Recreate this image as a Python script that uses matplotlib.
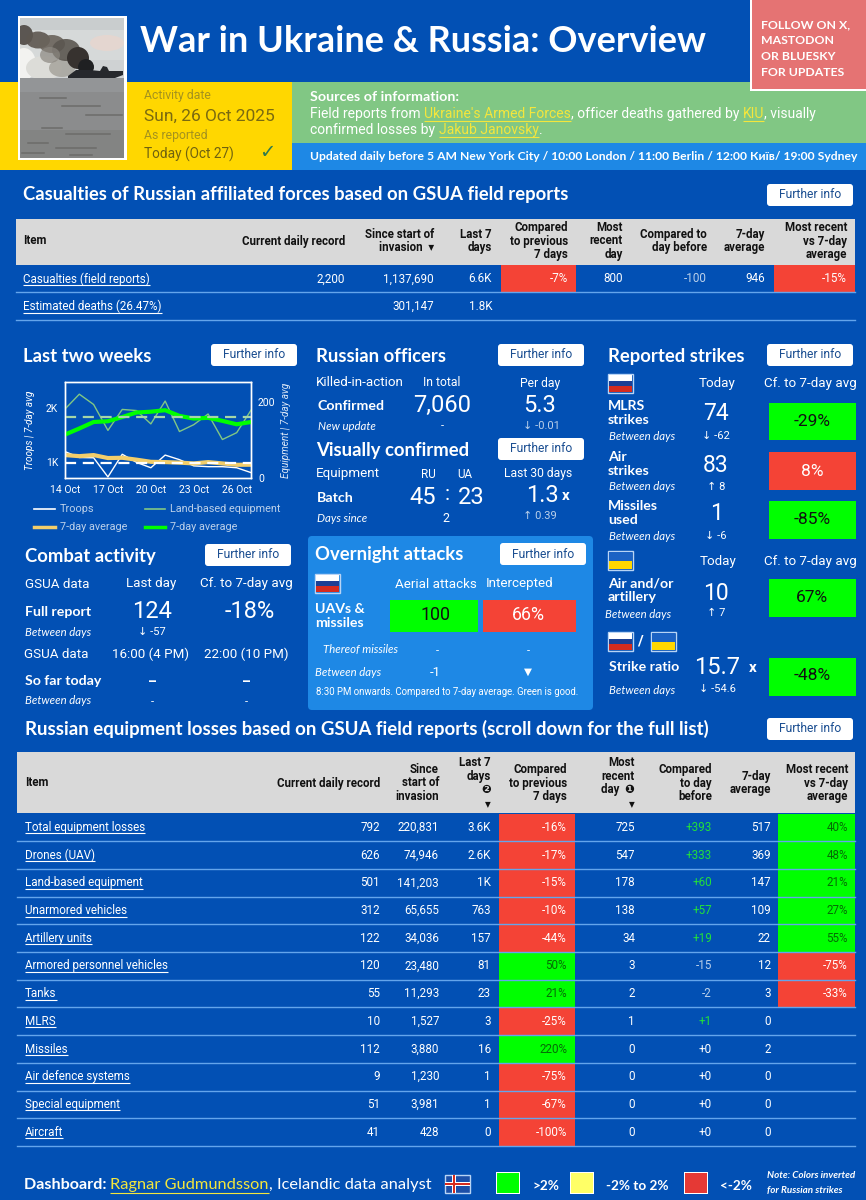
#!/usr/bin/python
#coding:utf-8
import matplotlib
matplotlib.use('agg')
import matplotlib.pyplot as plt
from matplotlib.patches import Rectangle, FancyBboxPatch, Ellipse, Polygon

BLUE = '#0250B4'
LIGHTBLUE = '#1E88E5'
GREEN = '#00FF00'
RED = '#F44336'
YELLOW = '#FFD700'
HEAD = '#D9D9D9'
LINE = '#64A5EC'
MUTED = '#BBD0EA'
DARKGREEN = '#066B06'

# line chart
days = list(range(14))
day_labels = ['14 Oct', '17 Oct', '20 Oct', '23 Oct', '26 Oct']
troops = [1190, 1080, 1075, 720, 1140, 990, 890, 1125, 1040, 925, 910, 910, 890, 800]
troops_avg = [1125, 1105, 1125, 1070, 1075, 1040, 1000, 995, 985, 970, 995, 970, 945, 946]
equipment = [181, 220, 193, 125, 180, 177, 142, 202, 122, 140, 168, 101, 119, 178]
equipment_avg = [114, 130, 147, 149, 160, 172, 174, 178, 163, 156, 158, 150, 141, 147]
troops_mean = 975
equipment_mean = 160

# casualties table
cas_items = ['Casualties (field reports)', 'Estimated deaths (26.47%)']
cas_record = ['2,200', '']
cas_since = ['1,137,690', '301,147']
cas_last7 = ['6.6K', '1.8K']
cas_cmp7 = [-7, None]
cas_recent = ['800', '']
cas_cmpday = ['-100', '']
cas_avg7 = ['946', '']
cas_vsavg = [-15, None]

# equipment table
eq_items = ['Total equipment losses', 'Drones (UAV)', 'Land-based equipment', 'Unarmored vehicles',
            'Artillery units', 'Armored personnel vehicles', 'Tanks', 'MLRS', 'Missiles',
            'Air defence systems', 'Special equipment', 'Aircraft']
eq_record = [792, 626, 501, 312, 122, 120, 55, 10, 112, 9, 51, 41]
eq_since = ['220,831', '74,946', '141,203', '65,655', '34,036', '23,480', '11,293', '1,527', '3,880',
            '1,230', '3,981', '428']
eq_last7 = ['3.6K', '2.6K', '1K', '763', '157', '81', '23', '3', '16', '1', '1', '0']
eq_cmp7 = [-16, -17, -15, -10, -44, 50, 21, -25, 220, -75, -67, -100]
eq_recent = [725, 547, 178, 138, 34, 3, 2, 1, 0, 0, 0, 0]
eq_cmpday = [393, 333, 60, 57, 19, -15, -2, 1, 0, 0, 0, 0]
eq_avg7 = [517, 369, 147, 109, 22, 12, 3, 0, 2, 0, 0, 0]
eq_vsavg = [40, 48, 21, 27, 55, -75, -33, None, None, None, None, None]

# strikes panel
strike_names = ['MLRS\nstrikes', 'Air\nstrikes', 'Missiles\nused']
strike_today = [74, 83, 1]
strike_diff = ['↓ -62', '↑ 8', '↓ -6']
strike_pct = [-29, 8, -85]

HEAD_FONT = ['Lato', 'DejaVu Sans']
BODY_FONT = ['Roboto', 'DejaVu Sans']
VAL = 8.4
LABEL = 9.6
BOLD = 10.2
SUB = 8.2

fig = plt.figure(figsize=(8.66, 12), dpi=100, facecolor=BLUE)
ax = fig.add_axes([0, 0, 1, 1])
ax.set_xlim(0, 866)
ax.set_ylim(1200, 0)
ax.axis('off')


def T(x, y, s, size=9, ha='left', color='white', weight='normal', style='normal', font=BODY_FONT, va='center', **kw):
    return ax.text(x, y, s, fontsize=size, ha=ha, va=va, color=color, fontweight=weight, fontstyle=style,
                   family=font, **kw)


def H(x, y, s, size=13.3):
    return T(x, y + 1.5, s, size=size, weight='bold', font=HEAD_FONT)


def box(x0, y0, x1, y1, color, **kw):
    ax.add_patch(Rectangle((x0, y0), x1 - x0, y1 - y0, facecolor=color, edgecolor='none', **kw))


def button(x0, y0, x1, y1):
    ax.add_patch(FancyBboxPatch((x0 + 3, y0 + 3), x1 - x0 - 6, y1 - y0 - 6, boxstyle='round,pad=3',
                                facecolor='white', edgecolor='none'))
    T((x0 + x1) / 2, (y0 + y1) / 2, 'Further info', size=8.7, ha='center', color='#1B4E91')


def run(x, y, parts, size, font=BODY_FONT, weight='normal'):
    # text in several colours on one line, links get a line under them
    r = fig.canvas.get_renderer()
    inv = ax.transData.inverted()
    for s, color, link in parts:
        t = T(x, y, s, size=size, color=color, font=font, weight=weight)
        bb = t.get_window_extent(r)
        x1 = inv.transform((bb.x1, bb.y0))[0]
        if link:
            ax.plot([x, x1], [y + size * 0.72, y + size * 0.72], color=color, lw=0.8, solid_capstyle='butt')
        x = x1
    return x


def flag(x, y, top, mid, bottom, w=23, h=17):
    ax.add_patch(Rectangle((x - 1, y - 1), w + 2, h + 2, facecolor='none', edgecolor='#B8D4F5', lw=1))
    box(x, y, x + w, y + h / 3, top)
    box(x, y + h / 3, x + w, y + 2 * h / 3, mid)
    box(x, y + 2 * h / 3, x + w, y + h, bottom)


def ru_flag(x, y):
    flag(x, y, 'white', '#1C3F94', '#D52B1E')


def ua_flag(x, y):
    w, h = 23, 17
    flag(x, y, '#1B62C4', '#1B62C4', YELLOW)
    box(x, y + h / 2, x + w, y + h, YELLOW)


def pct(v):
    return '%d%%' % v


def signed(v):
    return '%+d' % v


# header bands
box(0, 82, 292, 170, YELLOW)
box(292, 82, 866, 143, '#81C784')
box(292, 143, 866, 170, LIGHTBLUE)
box(750, 0, 866, 91, 'white')
box(752, 0, 866, 89, '#E57373')

# photo
box(18, 16, 127, 160, 'white')
clip = Rectangle((20, 18), 104, 140, transform=ax.transData)
box(20, 18, 124, 78, '#D6D9D9')
box(20, 18, 124, 30, '#C9CDCE')
box(20, 60, 124, 78, '#CFD2D3')
smoke = [(107, 43, 34, 16, '#E6D6CF', 0.9),
         (24, 64, 24, 32, '#F2F2F0', 1), (44, 68, 36, 24, '#DCDCD8', 1), (62, 68, 26, 18, '#A9A7A0', 0.9),
         (24, 35, 18, 20, '#4E4843', 0.9), (38, 40, 24, 17, '#5D5650', 0.9), (52, 44, 26, 18, '#6A635B', 0.9),
         (66, 50, 28, 22, '#5B5650', 0.9), (50, 55, 20, 16, '#8B8780', 0.7), (78, 58, 22, 22, '#37322F', 1),
         (86, 67, 16, 16, '#1F2022', 1)]
for cx, cy, w, h, c, a in smoke:
    e = Ellipse((cx, cy), w, h, facecolor=c, edgecolor='none', alpha=a)
    ax.add_patch(e)
    e.set_clip_path(clip)
ax.add_patch(Polygon([[68, 76], [76, 70], [90, 70], [100, 71], [103, 66], [107, 67], [109, 71], [123, 71], [123, 75],
                      [115, 78], [68, 78]], facecolor='#26282C', edgecolor='none'))
box(20, 78, 124, 158, '#8B8C8D')
box(20, 78, 124, 92, '#939597')
box(20, 130, 124, 158, '#838483')
for yy, x0, x1 in [(98, 40, 66), (106, 62, 100), (115, 86, 122), (128, 42, 62), (134, 66, 110), (143, 28, 48),
                   (148, 56, 96), (153, 22, 44), (155, 70, 92)]:
    ax.plot([x0, x1], [yy, yy], color='#6C6C6A', lw=1.1)

T(140, 41, 'War in Ukraine & Russia: Overview', size=26, weight='bold', font=HEAD_FONT)
for i, s in enumerate(['FOLLOW ON X,', 'MASTODON', 'OR BLUESKY', 'FOR UPDATES']):
    T(761, 25 + i * 16, s, size=8.8, weight='bold', font=HEAD_FONT)

T(144, 96, 'Activity date', size=8.8, color='#A4921E')
T(144, 116, 'Sun, 26 Oct 2025', size=12.5, color='#7A6A10')
T(144, 136, 'As reported', size=8.8, color='#A4921E')
T(144, 154, 'Today (Oct 27)', size=9.8, color='#6F6210')
T(267, 153, '✓', size=14, ha='center', color='#2F7A4F', font=['DejaVu Sans'])

T(310, 97, 'Sources of information:', size=10.3, weight='bold', font=HEAD_FONT)
LINK = '#F4E63C'
run(310, 114, [('Field reports from ', 'white', False), ("Ukraine's Armed Forces", LINK, True),
               (', officer deaths gathered by ', 'white', False), ('KIU', LINK, True),
               (', visually', 'white', False)], 10)
run(310, 130, [('confirmed losses by ', 'white', False), ('Jakub Janovsky', LINK, True), ('.', 'white', False)], 10)
T(310, 156, 'Updated daily before 5 AM New York City / 10:00 London / 11:00 Berlin / 12:00 Київ/ 19:00 Sydney',
  size=8.7, weight='bold', font=HEAD_FONT)

# casualties table
H(23, 193, 'Casualties of Russian affiliated forces based on GSUA field reports')
button(767, 184, 853, 206)
box(16, 219, 855, 265, HEAD)
cas_right = [345, 434, 492, 568, 623, 707, 765, 847]
cas_heads = ['Current daily record', 'Since start of\ninvasion  ▾', 'Last 7\ndays', 'Compared\nto previous\n7 days',
             'Most\nrecent\nday', 'Compared to\nday before', '7-day\naverage', 'Most recent\nvs 7-day\naverage']
T(23, 241, 'Item', size=8.3, color='#111111', weight='bold')
for xr, s in zip(cas_right, cas_heads):
    T(xr, 241, s, size=8.3, ha='right', color='#111111', weight='bold', linespacing=1.05)
cas_tops = [265, 292]
cas_bottoms = [292, 320]
for i in range(2):
    y0, y1 = cas_tops[i], cas_bottoms[i]
    yc = (y0 + y1) / 2 + 0.5
    if cas_cmp7[i] is not None:
        box(500.5, y0, 576, y1, RED)
        box(773.5, y0, 855, y1, RED)
        T(568, yc, pct(cas_cmp7[i]), size=VAL, ha='right')
        T(847, yc, pct(cas_vsavg[i]), size=VAL, ha='right')
    run(23, yc, [(cas_items[i], 'white', True)], VAL)
    vals = [cas_record[i], cas_since[i], cas_last7[i], None, cas_recent[i], cas_cmpday[i], cas_avg7[i], None]
    for xr, s in zip(cas_right, vals):
        if s:
            T(xr, yc, s, size=VAL, ha='right', color=MUTED if s == cas_cmpday[i] else 'white')
    ax.plot([16, 855], [y1, y1], color=LINE, lw=1)

# last two weeks
H(23, 355, 'Last two weeks')
button(211, 344, 297, 366)
W, H_ = 866.0, 1200.0
ax1 = fig.add_axes([65 / W, 1 - 478 / H_, (251 - 65) / W, (478 - 382) / H_], facecolor=BLUE)
ax1.plot(days, troops, color='white', lw=1)
ax1.plot(days, troops_avg, color='#F2CE6B', lw=3)
ax1.plot([0, 13], [troops_mean, troops_mean], color='white', lw=1.6, ls=(0, (5, 3)))
ax1.set_xlim(0, 13)
ax1.set_ylim(700, 2480)
ax1.set_yticks([1000, 2000])
ax1.set_yticklabels(['1K', '2K'], color='white', fontsize=7.5, family=BODY_FONT)
ax1.set_xticks([0, 3, 6, 9, 12])
ax1.set_xticklabels(day_labels, color='white', fontsize=7.5, family=BODY_FONT)
ax1.tick_params(length=0, pad=5)
ax1.set_ylabel('Troops | 7-day avg', color='white', fontsize=7.2, style='italic', family=BODY_FONT, labelpad=8)
ax2 = ax1.twinx()
ax2.plot(days, equipment, color='#81C784', lw=1)
ax2.plot(days, equipment_avg, color=GREEN, lw=3)
ax2.plot([0, 13], [equipment_mean, equipment_mean], color='#A5D6A7', lw=1.6, ls=(0, (5, 3)))
ax2.set_ylim(0, 252)
ax2.set_yticks([0, 200])
ax2.set_yticklabels(['0', '200'], color='white', fontsize=7.5, family=BODY_FONT)
ax2.tick_params(length=0, pad=5)
ax2.set_ylabel('Equipment | 7-day avg', color='#DCE8F7', fontsize=7.2, style='italic', family=BODY_FONT, labelpad=4)
for a in (ax1, ax2):
    for sp in a.spines.values():
        sp.set_color('white')
        sp.set_linewidth(1)

ax.plot([34, 55], [509, 509], color='white', lw=1.2)
T(60, 509, 'Troops', size=7.8, color=MUTED)
ax.plot([145, 165], [509, 509], color='#81C784', lw=1.2)
T(170, 509, 'Land-based equipment', size=7.8, color=MUTED)
ax.plot([34, 55], [527, 527], color='#F2CE6B', lw=2.5)
T(60, 527, '7-day average', size=7.8, color=MUTED)
ax.plot([145, 165], [527, 527], color=GREEN, lw=2.5)
T(170, 527, '7-day average', size=7.8, color=MUTED)

# combat activity
H(25, 555, 'Combat activity')
button(205, 544, 291, 566)
T(25, 584, 'GSUA data', size=LABEL)
T(151, 584, 'Last day', size=LABEL, ha='center')
T(246, 584, 'Cf. to 7-day avg', size=LABEL, ha='center')
T(25, 612, 'Full report', size=BOLD, weight='bold', font=HEAD_FONT)
T(152, 612, '124', size=17, ha='center')
T(250, 612, '-18%', size=17, ha='center')
T(25, 632, 'Between days', size=SUB, style='italic', font=HEAD_FONT)
T(152, 632, '↓ -57', size=8, ha='center')
T(24, 654, 'GSUA data', size=LABEL)
T(151, 654, '16:00 (4 PM)', size=LABEL, ha='center')
T(246, 654, '22:00 (10 PM)', size=LABEL, ha='center')
T(25, 681, 'So far today', size=BOLD, weight='bold', font=HEAD_FONT)
T(152, 682, '–', size=10, ha='center', weight='bold')
T(246, 682, '–', size=10, ha='center', weight='bold')
T(25, 701, 'Between days', size=SUB, style='italic', font=HEAD_FONT)
T(152, 702, '-', size=8, ha='center')
T(246, 702, '-', size=8, ha='center')

# officers
H(316, 355, 'Russian officers')
button(498, 344, 584, 366)
T(316, 383, 'Killed-in-action', size=LABEL)
T(442, 383, 'In total', size=8.7, ha='center')
T(540, 383, 'Per day', size=8.7, ha='center')
T(317, 406, 'Confirmed', size=BOLD, weight='bold', font=HEAD_FONT)
T(442, 405, '7,060', size=17, ha='center')
T(540, 405, '5.3', size=17, ha='center')
T(318, 426, 'New update', size=SUB, style='italic', font=HEAD_FONT)
T(442, 426, '-', size=8, ha='center')
T(541, 426, '↓ -0.01', size=8, ha='center', color=MUTED)

H(316, 449, 'Visually confirmed')
button(498, 438, 584, 460)
T(316, 474, 'Equipment', size=LABEL)
T(428, 475, 'RU', size=8.4, ha='center')
T(465, 475, 'UA', size=8.4, ha='center')
T(538, 474, 'Last 30 days', size=8.7, ha='center')
T(317, 498, 'Batch', size=BOLD, weight='bold', font=HEAD_FONT)
T(423, 497, '45', size=17, ha='center')
T(447, 495, ':', size=15, ha='center')
T(471, 497, '23', size=17, ha='center')
T(542, 495, '1.3', size=17, ha='center')
T(566, 496, 'x', size=11, ha='center', weight='bold')
T(317, 519, 'Days since', size=SUB, style='italic', font=HEAD_FONT)
T(446, 518, '2', size=9, ha='center')
T(540, 516, '↑ 0.39', size=8, ha='center', color=MUTED)

# overnight attacks
ax.add_patch(FancyBboxPatch((312, 540), 277, 166, boxstyle='round,pad=4', facecolor=LIGHTBLUE, edgecolor='none'))
H(315, 553, 'Overnight attacks')
button(500, 543, 586, 565)
ru_flag(316, 575)
T(436, 584, 'Aerial attacks', size=LABEL, ha='center')
T(520, 584, 'Intercepted', size=LABEL, ha='center')
T(315, 616, 'UAVs &\nmissiles', size=BOLD, weight='bold', font=HEAD_FONT, linespacing=1.15)
box(390, 600, 478, 632, GREEN)
box(483, 600, 576, 632, RED)
T(436, 615, '100', size=12.8, ha='center', color='#111111')
T(528, 615, '66%', size=12.8, ha='center')
T(323, 649, 'Thereof missiles', size=SUB, style='italic', font=HEAD_FONT)
T(437, 651, '-', size=8, ha='center')
T(528, 651, '-', size=8, ha='center')
T(315, 672, 'Between days', size=SUB, style='italic', font=HEAD_FONT)
T(435, 672, '-1', size=9.5, ha='center')
T(528, 672, '▼', size=7.5, ha='center', font=['DejaVu Sans'])
T(316, 692, '8:30 PM onwards. Compared to 7-day average. Green is good.', size=6.9)

# reported strikes
H(608, 355, 'Reported strikes')
button(767, 344, 853, 366)
ru_flag(609, 375)
T(717, 384, 'Today', size=LABEL, ha='center')
T(810, 384, 'Cf. to 7-day avg', size=LABEL, ha='center')
strike_y = [413, 464, 513]
strike_tops = [403, 452, 501]
strike_bots = [440, 490, 539]
strike_sub = [436, 487, 536]
strike_mid = [414, 465, 513]
for i in range(3):
    T(608, strike_y[i], strike_names[i], size=BOLD, weight='bold', font=HEAD_FONT, linespacing=1.15)
    T(609, strike_sub[i], 'Between days', size=SUB, style='italic', font=HEAD_FONT)
    T(716, strike_mid[i], str(strike_today[i]), size=16.5, ha='center')
    T(716, strike_sub[i], strike_diff[i], size=8, ha='center')
    good = strike_pct[i] < 0
    box(769, strike_tops[i], 856, strike_bots[i], GREEN if good else RED)
    T(812, (strike_tops[i] + strike_bots[i]) / 2, pct(strike_pct[i]), size=12.5, ha='center',
      color='#111111' if good else 'white')

ua_flag(609, 552)
T(718, 562, 'Today', size=LABEL, ha='center')
T(810, 562, 'Cf. to 7-day avg', size=LABEL, ha='center')
T(608, 590, 'Air and/or\nartillery', size=BOLD, weight='bold', font=HEAD_FONT, linespacing=1.15)
T(605, 615, 'Between days', size=SUB, style='italic', font=HEAD_FONT)
T(716, 593, '10', size=16.5, ha='center')
T(716, 613, '↑ 7', size=8, ha='center')
box(769, 579, 856, 617, GREEN)
T(812, 597, '67%', size=12.5, ha='center', color='#111111')
ru_flag(609, 633)
T(640, 642, '/', size=11, ha='center', weight='bold')
ua_flag(652, 633)
T(609, 667, 'Strike ratio', size=BOLD, weight='bold', font=HEAD_FONT)
T(717, 668, '15.7', size=17, ha='center')
T(753, 668, 'x', size=11, ha='center', weight='bold')
T(609, 690, 'Between days', size=SUB, style='italic', font=HEAD_FONT)
T(717, 689, '↓ -54.6', size=8, ha='center')
box(769, 658, 856, 696, GREEN)
T(812, 676, '-48%', size=12.5, ha='center', color='#111111')

# equipment table
H(25, 727, 'Russian equipment losses based on GSUA field reports (scroll down for the full list)', size=13.4)
button(767, 718, 853, 740)
box(17, 752, 855, 813, HEAD)
eq_right = [380, 439, 491, 567, 635, 712, 771, 848]
eq_heads = ['Current daily record', 'Since\nstart of\ninvasion', 'Last 7\ndays\n❷\n▾', 'Compared\nto previous\n7 days',
            'Most\nrecent\nday  ❶\n▾', 'Compared\nto day\nbefore', '7-day\naverage', 'Most recent\nvs 7-day\naverage']
T(25, 783, 'Item', size=8.3, color='#111111', weight='bold')
for xr, s in zip(eq_right, eq_heads):
    T(xr, 783, s, size=8.3, ha='right', color='#111111', weight='bold', linespacing=1.05)
row_h = (1146 - 813.5) / 12
for i in range(12):
    y0 = 813.5 + i * row_h
    y1 = y0 + row_h
    yc = (y0 + y1) / 2
    c7 = eq_cmp7[i]
    box(499, y0, 575, y1, RED if c7 < 0 else GREEN)
    T(567, yc, pct(c7), size=VAL, ha='right', color='white' if c7 < 0 else DARKGREEN)
    va = eq_vsavg[i]
    if va is not None:
        box(778, y0, 855, y1, RED if va < 0 else GREEN)
        T(848, yc, pct(va), size=VAL, ha='right', color='white' if va < 0 else DARKGREEN)
    ax.plot([17, 855], [y1, y1], color=LINE, lw=1)
    run(25, yc, [(eq_items[i], 'white', True)], VAL)
    T(380, yc, str(eq_record[i]), size=VAL, ha='right')
    T(439, yc, eq_since[i], size=VAL, ha='right')
    T(491, yc, eq_last7[i], size=VAL, ha='right')
    T(635, yc, str(eq_recent[i]), size=VAL, ha='right')
    d = eq_cmpday[i]
    T(712, yc, signed(d), size=VAL, ha='right', color='#22E03A' if d > 0 else (MUTED if d < 0 else 'white'))
    T(771, yc, str(eq_avg7[i]), size=VAL, ha='right')

# footer
x = run(24, 1185, [('Dashboard: ', 'white', False)], 11.6, font=HEAD_FONT, weight='bold')
run(x, 1185, [('Ragnar Gudmundsson', LINK, True), (', Icelandic data analyst', 'white', False)], 11.8, font=HEAD_FONT)
box(445, 1175, 470, 1193, '#1C4FA8')
ax.add_patch(Rectangle((445, 1175), 25, 18, facecolor='none', edgecolor='#B8D4F5', lw=1))
box(445, 1182, 470, 1186, 'white')
box(452, 1175, 456, 1193, 'white')
box(445, 1183, 470, 1185, '#D52B1E')
box(453, 1175, 455, 1193, '#D52B1E')
for x0, c, s in [(496, GREEN, '>2%'), (570, '#FFFF66', '-2% to 2%'), (684, '#E53935', '<-2%')]:
    box(x0, 1172, x0 + 24, 1194, 'white')
    box(x0 + 1, 1173, x0 + 23, 1193, c)
    T(x0 + 36, 1186, s, size=9.8, weight='bold', font=HEAD_FONT)
T(767, 1175, 'Note: Colors inverted', size=7.1, style='italic', weight='bold', font=HEAD_FONT)
T(767, 1191, 'for Russian strikes', size=7.1, style='italic', weight='bold', font=HEAD_FONT)

fig.savefig('out.png', dpi=100, facecolor=BLUE)
